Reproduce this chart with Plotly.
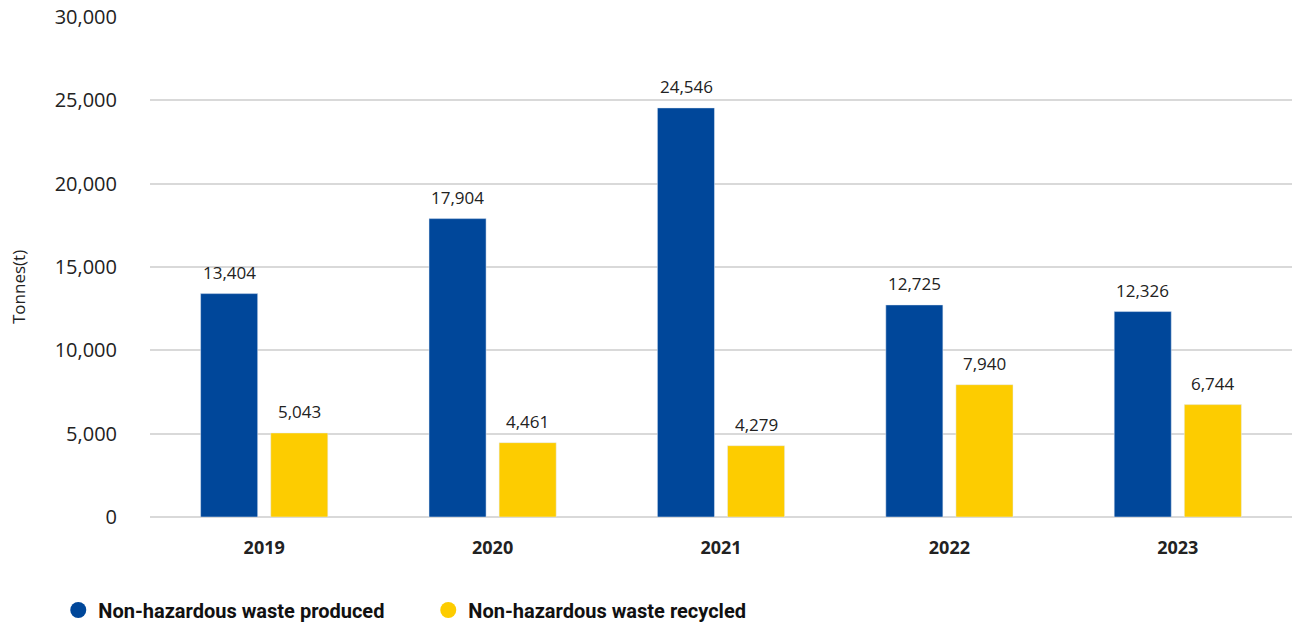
import plotly.graph_objects as go

years = ["2019", "2020", "2021", "2022", "2023"]
produced = [13404, 17904, 24546, 12725, 12326]
recycled = [5043, 4461, 4279, 7940, 6744]
series_names = ["Non-hazardous waste produced", "Non-hazardous waste recycled"]
y_ticks = [0, 5000, 10000, 15000, 20000, 25000, 30000]

BLUE = "#00479A"
YELLOW = "#FDCC00"
TEXT = "#222222"
FONT = "Open Sans"

fig = go.Figure()

series = [(series_names[0], produced, BLUE, -35), (series_names[1], recycled, YELLOW, 35)]

for name, vals, color, _ in series:
    fig.add_trace(go.Bar(
        x=years, y=vals, name=name, marker_color=color, showlegend=False,
        legendgroup=name,
    ))

# circular legend markers (no visible points)
for name, _, color, _ in series:
    fig.add_trace(go.Scatter(
        x=[years[0]], y=[None], mode="markers", name=name, legendgroup=name,
        marker=dict(symbol="circle", size=16, color=color), hoverinfo="skip",
    ))

# value labels above each bar (x given as category index)
annotations = []
for name, vals, color, dx in series:
    for i, v in enumerate(vals):
        annotations.append(dict(
            x=i, y=v, xref="x", yref="y", text=f"{v:,}", showarrow=False,
            xanchor="center", yanchor="bottom", xshift=dx, yshift=8,
            font=dict(family=FONT, size=17, color=TEXT),
        ))

annotations.append(dict(
    text="Tonnes(t)", textangle=-90, showarrow=False,
    xref="paper", yref="paper",
    x=(18 - 150) / 1142, y=(517 - 287) / 500,
    xanchor="center", yanchor="middle",
    font=dict(family=FONT, size=17, color=TEXT),
))

fig.update_layout(
    width=1295, height=626,
    margin=dict(l=150, r=3, t=17, b=109),
    paper_bgcolor="white", plot_bgcolor="white",
    barmode="group", bargap=0.386, bargroupgap=0.186,
    font=dict(family=FONT, color=TEXT),
    showlegend=True,
    legend=dict(
        orientation="h", xref="container", yref="container",
        x=0.045, y=(626 - 610) / 626, xanchor="left", yanchor="middle",
        font=dict(family="Roboto", size=20, color="#111111", weight="bold"),
        entrywidth=325, entrywidthmode="pixels", itemwidth=30,
        bgcolor="rgba(0,0,0,0)",
    ),
    xaxis=dict(
        type="category", categoryorder="array", categoryarray=years,
        range=[-0.5, len(years) - 0.5],
        showgrid=False, showline=False, ticks="",
        tickfont=dict(family=FONT, size=18, color=TEXT, weight="bold"),
        ticklabelstandoff=18,
    ),
    yaxis=dict(
        range=[0, 30000], tickvals=y_ticks, ticktext=[f"{v:,}" for v in y_ticks],
        showgrid=True, gridcolor="#D9D9D9", gridwidth=1.5,
        zeroline=True, zerolinecolor="#D9D9D9", zerolinewidth=1.5,
        showline=False, ticks="",
        tickfont=dict(family=FONT, size=20, color=TEXT),
        ticklabelstandoff=32, automargin=False,
    ),
    annotations=annotations,
)

fig.write_html("out.html")
